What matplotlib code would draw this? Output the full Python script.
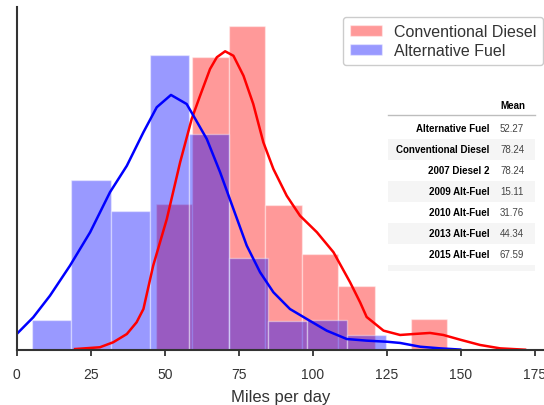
import numpy as np
import matplotlib.pyplot as plt
from matplotlib.patches import Rectangle

plt.rcParams['font.family'] = ['Liberation Sans', 'DejaVu Sans']

# histogram bins (miles per day) and normalised heights
diesel_edges = [47.0, 59.3, 71.6, 83.9, 96.3, 108.6, 120.9, 133.2, 145.5]
diesel_density = [0.01078, 0.02164, 0.02397, 0.01073, 0.00708, 0.00474, 0.0, 0.00227]
alt_edges = [5.1, 18.4, 31.7, 45.0, 58.3, 71.6, 84.9, 98.2, 111.5, 124.8]
alt_density = [0.00222, 0.01256, 0.01028, 0.02181, 0.01596, 0.00678, 0.00215, 0.00220, 0.00109]

# kde curves
diesel_kde_x = [19.7, 28.1, 32.6, 37.2, 40.5, 42.8, 46.1, 50.7, 55.2, 59.1, 61.9, 65.3, 67.6,
                70.4, 73.2, 76.6, 79.9, 83.3, 86.7, 91.2, 95.7, 101.4, 107.0, 112.6, 116.0,
                118.2, 123.9, 129.5, 134.0, 139.6, 144.1, 149.8, 156.5, 163.3, 171.7]
diesel_kde_y = [0.00005, 0.00018, 0.00055, 0.00116, 0.00203, 0.00301, 0.00622, 0.00967, 0.01387,
                0.01707, 0.01877, 0.02077, 0.02164, 0.02208, 0.02175, 0.02027, 0.01818, 0.01535,
                0.01337, 0.01139, 0.00991, 0.00869, 0.00721, 0.00499, 0.00350, 0.00242, 0.00141,
                0.00109, 0.00116, 0.00124, 0.00109, 0.00074, 0.00035, 0.00010, 0.0]
alt_kde_x = [0.0, 5.6, 11.25, 18.0, 24.8, 31.5, 37.2, 42.8, 47.3, 52.1, 57.4, 59.7, 64.2, 68.7,
             73.2, 77.7, 82.2, 86.7, 92.3, 98.0, 104.7, 111.5, 118.2, 125.0, 129.5, 136.3,
             143.0, 149.8]
alt_kde_y = [0.00116, 0.00240, 0.00400, 0.00622, 0.00869, 0.01165, 0.01361, 0.01609, 0.01794,
             0.01885, 0.01818, 0.01731, 0.01559, 0.01313, 0.01041, 0.00770, 0.00573, 0.00425,
             0.00301, 0.00227, 0.00141, 0.00079, 0.00067, 0.00059, 0.00050, 0.00022, 0.00010,
             0.00001]

# summary table
table_rows = ['Alternative Fuel', 'Conventional Diesel', '2007 Diesel 2', '2009 Alt-Fuel',
              '2010 Alt-Fuel', '2013 Alt-Fuel', '2015 Alt-Fuel']
table_means = [52.27, 78.24, 78.24, 15.11, 31.76, 44.34, 67.59]

fig = plt.figure(figsize=(5.44, 4.06), dpi=100)
ax = fig.add_axes([16.7 / 544, 55.3 / 406, 1 - 16.7 / 544, 342.7 / 406])

d_w = np.diff(diesel_edges)
a_w = np.diff(alt_edges)
ax.bar(diesel_edges[:-1], diesel_density, width=d_w, align='edge', color='red', alpha=0.4,
       edgecolor='white', linewidth=1, label='Conventional Diesel')
ax.bar(alt_edges[:-1], alt_density, width=a_w, align='edge', color='blue', alpha=0.4,
       edgecolor='white', linewidth=1, label='Alternative Fuel')
ax.plot(diesel_kde_x, diesel_kde_y, color='red', lw=1.8, solid_joinstyle='round')
ax.plot(alt_kde_x, alt_kde_y, color='blue', lw=1.8, solid_joinstyle='round')

ax.set_xlim(0, 178.1)
ax.set_ylim(0, 0.025357)
ax.set_xticks(np.arange(0, 176, 25))
ax.set_yticks([])
for s in ['top', 'right']:
    ax.spines[s].set_visible(False)
for s in ['left', 'bottom']:
    ax.spines[s].set_color('#333333')
    ax.spines[s].set_linewidth(1.5)
ax.tick_params(axis='x', length=4, width=1.3, color='#333333', labelcolor='#333333',
               labelsize=10, pad=8.5)
ax.set_xlabel('Miles per day', fontsize=12, color='#333333', labelpad=5.5)

ax.legend(loc='upper left', bbox_to_anchor=(343.3 / 544, 1 - 18.3 / 406),
          bbox_transform=fig.transFigure, borderaxespad=0, fontsize=11.5,
          handlelength=2.0, handletextpad=0.8, labelspacing=0.3, borderpad=0.4,
          edgecolor='#cccccc', framealpha=1, labelcolor='#333333')

# table overlay in pixel coordinates
tab = fig.add_axes([0, 0, 1, 1])
tab.set_xlim(0, 544)
tab.set_ylim(406, 0)
tab.axis('off')
tab.text(525, 106, 'Mean', ha='right', va='center', fontsize=7, fontweight='bold', color='black')
tab.plot([388, 535], [116, 116], color='#bdbdbd', lw=1)
row_y0 = 129.3
pitch = 20.95
for i, (name, val) in enumerate(zip(table_rows, table_means)):
    y = row_y0 + i * pitch
    if i % 2 == 1:
        tab.add_patch(Rectangle((388, y - pitch / 2), 147, pitch, color='#f5f5f5', lw=0, zorder=0))
    tab.text(489.5, y, name, ha='right', va='center', fontsize=7, fontweight='bold', color='black')
    tab.text(500, y, f'{val:.2f}', ha='left', va='center', fontsize=7, color='#444444')
tab.add_patch(Rectangle((388, row_y0 + 6.5 * pitch + 0.5), 147, 6, color='#f5f5f5', lw=0, zorder=0))

fig.savefig('out.png', dpi=100)
